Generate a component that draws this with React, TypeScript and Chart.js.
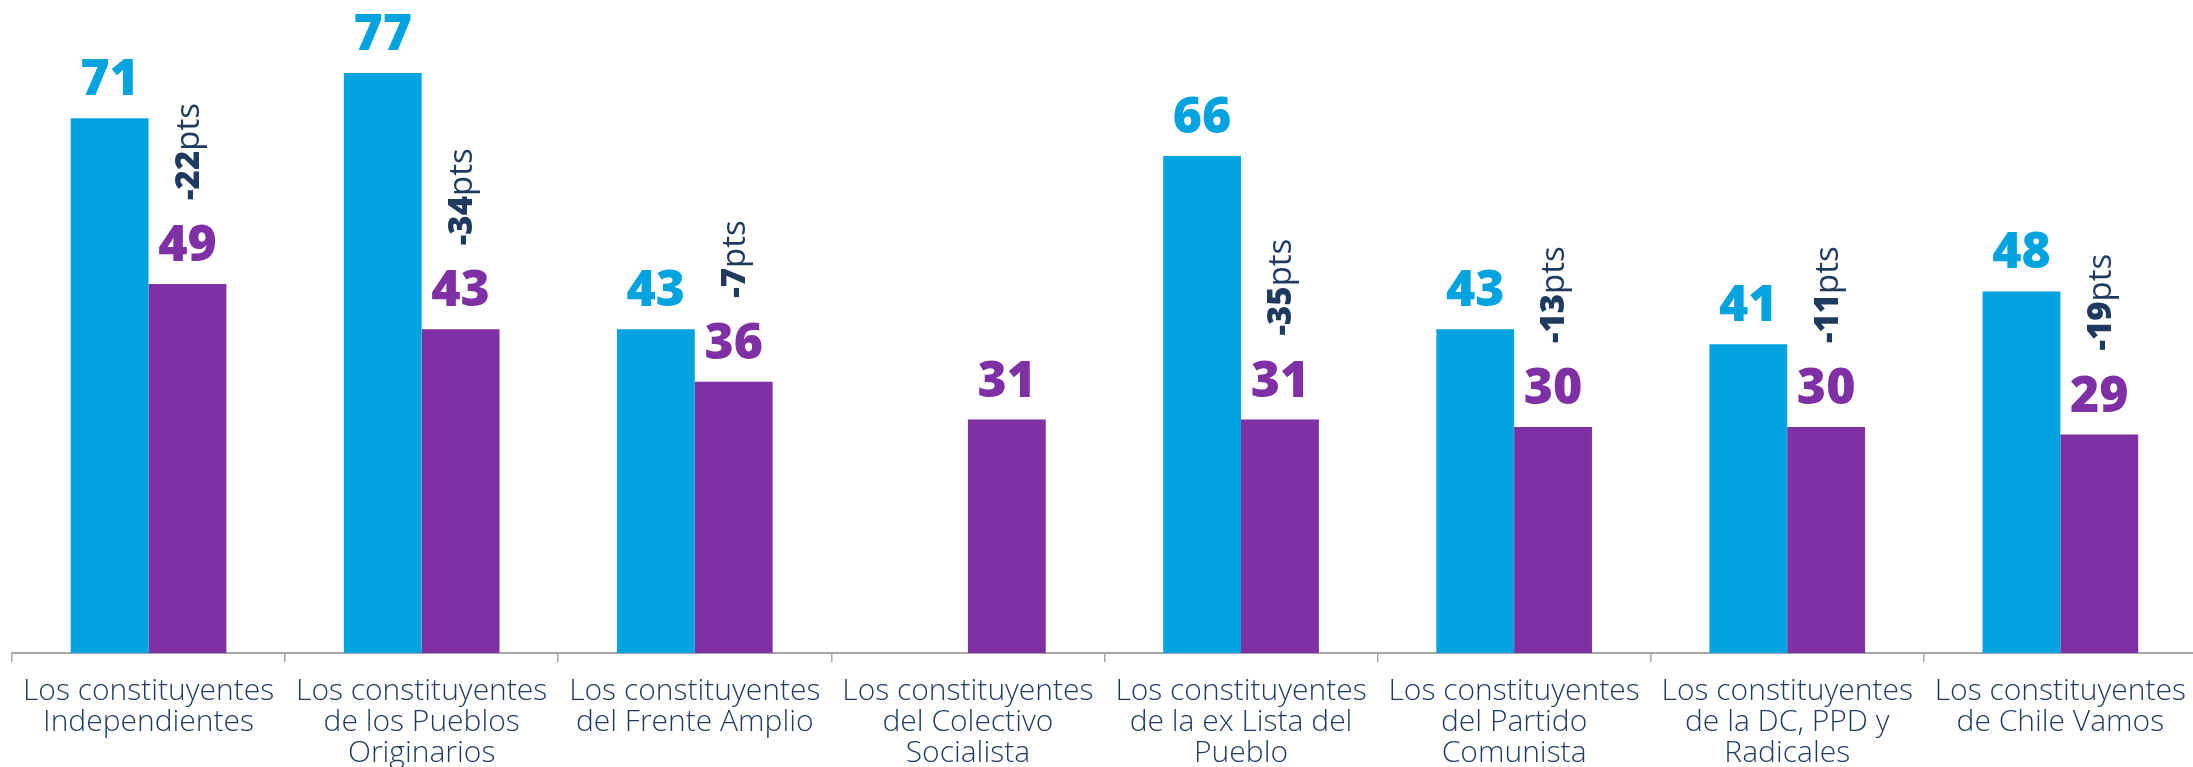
import React, { useEffect, useRef } from "react";
import { Chart, registerables } from "chart.js";

Chart.register(...registerables);

const categories: string[][] = [
  ["Los constituyentes", "Independientes"],
  ["Los constituyentes", "de los Pueblos", "Originarios"],
  ["Los constituyentes", "del Frente Amplio"],
  ["Los constituyentes", "del Colectivo", "Socialista"],
  ["Los constituyentes", "de la ex Lista del", "Pueblo"],
  ["Los constituyentes", "del Partido", "Comunista"],
  ["Los constituyentes", "de la DC, PPD y", "Radicales"],
  ["Los constituyentes", "de Chile Vamos"],
];

const beforeValues: (number | null)[] = [71, 77, 43, null, 66, 43, 41, 48];
const afterValues: number[] = [49, 43, 36, 31, 31, 30, 30, 29];
const diffValues: (number | null)[] = [-22, -34, -7, null, -35, -13, -11, -19];

const BLUE = "#03A3E0";
const PURPLE = "#7F30A5";
const NAVY = "#1E3A5F";
const AXIS = "#A6A6A6";

const labelsPlugin = {
  id: "valueLabels",
  afterDatasetsDraw(chart: any) {
    const ctx = chart.ctx;
    ctx.save();
    chart.data.datasets.forEach((ds: any, di: number) => {
      const meta = chart.getDatasetMeta(di);
      meta.data.forEach((bar: any, i: number) => {
        const v = ds.data[i];
        if (v == null) return;
        ctx.font = "800 50px 'Open Sans', sans-serif";
        ctx.fillStyle = ds.backgroundColor;
        ctx.textAlign = "center";
        ctx.textBaseline = "alphabetic";
        ctx.fillText(String(v), bar.x, bar.y - 23);
      });
    });
    const meta1 = chart.getDatasetMeta(1);
    diffValues.forEach((d, i) => {
      if (d == null) return;
      const bar: any = meta1.data[i];
      ctx.save();
      ctx.translate(bar.x + 2, bar.y - 84);
      ctx.rotate(-Math.PI / 2);
      ctx.textAlign = "left";
      ctx.textBaseline = "middle";
      ctx.fillStyle = NAVY;
      const s1 = String(d);
      ctx.font = "800 33px 'Open Sans', sans-serif";
      ctx.fillText(s1, 0, 0);
      const w = ctx.measureText(s1).width;
      ctx.font = "400 33px 'Open Sans', sans-serif";
      ctx.fillText("pts", w, 0);
      ctx.restore();
    });
    ctx.restore();
  },
};

export default function App() {
  const ref = useRef<HTMLCanvasElement | null>(null);
  useEffect(() => {
    if (!ref.current) return;
    const chart = new Chart(ref.current, {
      type: "bar",
      data: {
        labels: categories,
        datasets: [
          { data: beforeValues, backgroundColor: BLUE, borderWidth: 0 },
          { data: afterValues, backgroundColor: PURPLE, borderWidth: 0 },
        ],
      },
      options: {
        responsive: false,
        animation: false,
        layout: { padding: { left: 12, right: 0, top: 0, bottom: 0 } },
        datasets: { bar: { categoryPercentage: 0.57, barPercentage: 1.0 } },
        plugins: { legend: { display: false }, tooltip: { enabled: false } },
        scales: {
          y: { display: false, min: 0, max: 86.7 },
          x: {
            grid: {
              display: true,
              offset: true,
              drawOnChartArea: false,
              drawTicks: true,
              tickLength: 9,
              color: AXIS,
              lineWidth: 1.5,
            },
            border: { display: true, color: AXIS, width: 2 },
            ticks: {
              color: NAVY,
              font: { family: "'Open Sans', sans-serif", size: 30, weight: 300, lineHeight: "31px" },
              padding: 14,
              maxRotation: 0,
              autoSkip: false,
            },
            afterFit: (s: any) => {
              s.height = 114;
            },
          },
        },
      },
      plugins: [labelsPlugin],
    } as any);
    return () => chart.destroy();
  }, []);
  return (
    <div style={{ position: "fixed", left: 0, top: 0, width: 2193, height: 767, overflow: "hidden", background: "#fff" }}>
      <canvas ref={ref} width={2200} height={767} style={{ display: "block" }} />
    </div>
  );
}
